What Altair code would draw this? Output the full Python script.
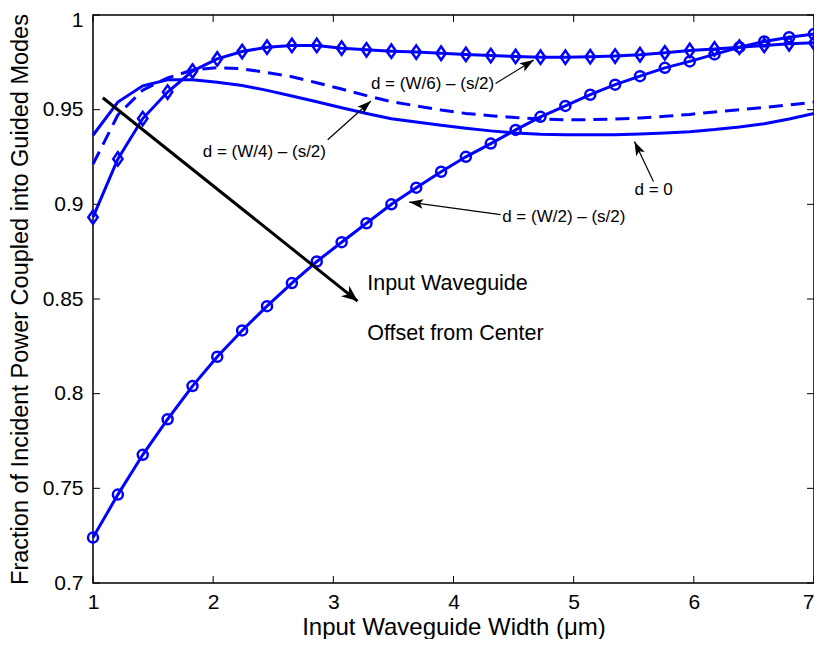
import math
import altair as alt
import pandas as pd

# ---------------- data ----------------
x_vals = [1.000, 1.207, 1.414, 1.621, 1.828, 2.034, 2.241, 2.448, 2.655, 2.862,
          3.069, 3.276, 3.483, 3.690, 3.897, 4.103, 4.310, 4.517, 4.724, 4.931,
          5.138, 5.345, 5.552, 5.759, 5.966, 6.172, 6.379, 6.586, 6.793, 7.000]

# d = 0 (solid, no markers)
d_zero = [0.9365, 0.9540, 0.9626, 0.9658, 0.9658, 0.9645, 0.9628, 0.9602, 0.9572, 0.9542,
          0.9510, 0.9480, 0.9452, 0.9435, 0.9418, 0.9402, 0.9388, 0.9377, 0.9370, 0.9367,
          0.9367, 0.9368, 0.9372, 0.9377, 0.9384, 0.9395, 0.9409, 0.9426, 0.9451, 0.9480]

# d = (W/4) - (s/2) (dashed)
d_w4 = [0.9212, 0.9472, 0.9603, 0.9668, 0.9709, 0.9722, 0.9716, 0.9696, 0.9674, 0.9642,
        0.9609, 0.9574, 0.9542, 0.9520, 0.9498, 0.9480, 0.9468, 0.9458, 0.9451, 0.9447,
        0.9447, 0.9451, 0.9456, 0.9465, 0.9475, 0.9488, 0.9500, 0.9512, 0.9525, 0.9540]

# d = (W/6) - (s/2) (diamonds)
d_w6 = [0.8932, 0.9240, 0.9453, 0.9593, 0.9704, 0.9768, 0.9807, 0.9830, 0.9839, 0.9839,
        0.9825, 0.9816, 0.9809, 0.9804, 0.9798, 0.9792, 0.9786, 0.9781, 0.9777, 0.9777,
        0.9780, 0.9783, 0.9790, 0.9800, 0.9813, 0.9821, 0.9830, 0.9839, 0.9848, 0.9853]

# d = (W/2) - (s/2) (circles)
d_w2 = [0.7240, 0.7467, 0.7677, 0.7865, 0.8040, 0.8195, 0.8334, 0.8462, 0.8584, 0.8698,
        0.8800, 0.8900, 0.9000, 0.9088, 0.9172, 0.9251, 0.9321, 0.9393, 0.9462, 0.9520,
        0.9579, 0.9632, 0.9677, 0.9721, 0.9755, 0.9792, 0.9830, 0.9860, 0.9883, 0.9900]

x_ticks = [1, 2, 3, 4, 5, 6, 7]
y_ticks = [0.7, 0.75, 0.8, 0.85, 0.9, 0.95, 1.0]

# annotations: label text, label anchor (x, y), font size
labels = ["d = (W/6) \u2013 (s/2)", "d = (W/4) \u2013 (s/2)", "d = 0",
          "d = (W/2) \u2013 (s/2)", "Input Waveguide", "Offset from Center"]
label_x = [3.313, 1.913, 5.506, 4.405, 3.282, 3.282]
label_y = [0.9638, 0.9279, 0.9074, 0.8935, 0.8579, 0.8316]
label_size = [17, 17, 17, 17, 21.5, 21.5]

# arrows: start (x1, y1) -> tip (x2, y2)
arrow_x1 = [4.350, 2.953, 5.664, 4.392, 1.081]
arrow_y1 = [0.9638, 0.9341, 0.9121, 0.8946, 0.9563]
arrow_x2 = [4.668, 3.313, 5.506, 3.631, 3.202]
arrow_y2 = [0.9762, 0.9546, 0.9332, 0.9012, 0.8489]
arrow_big = [False, False, False, False, True]

# ---------------- chart ----------------
W, H = 721, 568
XDOM, YDOM = [1, 7], [0.7, 1.0]
BLUE = "#0000ff"
FONT = "Liberation Sans"

xs = alt.Scale(domain=XDOM, nice=False, zero=False)
ys = alt.Scale(domain=YDOM, nice=False, zero=False)


def ang(x1, y1, x2, y2):
    dxp = (x2 - x1) * W / (XDOM[1] - XDOM[0])
    dyp = -(y2 - y1) * H / (YDOM[1] - YDOM[0])
    return math.degrees(math.atan2(dxp, -dyp)) % 360


x_axis = alt.Axis(values=x_ticks, format="d", ticks=False, domain=False, grid=False,
                  labelFont=FONT, labelFontSize=21, labelColor="black", labelPadding=8,
                  labelFlush=False,
                  labelAlign={"condition": {"test": "datum.value == 7", "value": "right"},
                              "value": "center"},
                  title="Input Waveguide Width (\u03bcm)",
                  titleFont=FONT, titleFontSize=24, titleFontWeight="normal",
                  titleColor="black", titleY=44, titleBaseline="middle")
y_axis = alt.Axis(values=y_ticks, format="~g", ticks=False, domain=False, grid=False,
                  labelFont=FONT, labelFontSize=21, labelColor="black", labelPadding=10,
                  labelFlush=False,
                  labelOffset={"condition": {"test": "datum.value == 1", "value": 5},
                               "value": 0},
                  title="Fraction of Incident Power Coupled into Guided Modes",
                  titleFont=FONT, titleFontSize=23.5, titleFontWeight="normal",
                  titleColor="black", titleAngle=270, titleX=-73, titleY=H / 2,
                  titleBaseline="middle", titleAlign="center")


def X(f):
    return alt.X(f, scale=xs, axis=x_axis)


def Y(f):
    return alt.Y(f, scale=ys, axis=y_axis)


def series_df(vals):
    return pd.DataFrame({"x": x_vals, "y": vals})


def line(vals, dash=None):
    kw = dict(color=BLUE, strokeWidth=3)
    if dash:
        kw["strokeDash"] = dash
    return alt.Chart(series_df(vals)).mark_line(**kw).encode(x=X("x:Q"), y=Y("y:Q"))


def pts(vals, shape, size):
    return alt.Chart(series_df(vals)).mark_point(
        shape=shape, filled=False, color=BLUE, strokeWidth=2.5, size=size, opacity=1
    ).encode(x=X("x:Q"), y=Y("y:Q"))


zero_line = line(d_zero)
dash_line = line(d_w4, dash=[14, 8])
w6_line = line(d_w6)
w6_pts = pts(d_w6, "M0,-1L0.7,0L0,1L-0.7,0Z", 180)
w2_line = line(d_w2)
w2_pts = pts(d_w2, "circle", 100)

# inward ticks on all four sides
xt = pd.DataFrame({"t": x_ticks})
yt = pd.DataFrame({"t": y_ticks})
TL = 7
tick_layers = [
    alt.Chart(xt).mark_rule(color="black", strokeWidth=1).encode(
        x=X("t:Q"), y=alt.value(H), y2=alt.value(H - TL)),
    alt.Chart(xt).mark_rule(color="black", strokeWidth=1).encode(
        x=X("t:Q"), y=alt.value(0), y2=alt.value(TL)),
    alt.Chart(yt).mark_rule(color="black", strokeWidth=1).encode(
        y=Y("t:Q"), x=alt.value(0), x2=alt.value(TL)),
    alt.Chart(yt).mark_rule(color="black", strokeWidth=1).encode(
        y=Y("t:Q"), x=alt.value(W), x2=alt.value(W - TL)),
]

arrows = pd.DataFrame({
    "x1": arrow_x1, "y1": arrow_y1, "x2": arrow_x2, "y2": arrow_y2, "big": arrow_big,
})
arrows["ang"] = [ang(a, b, c, d) for a, b, c, d in zip(arrow_x1, arrow_y1, arrow_x2, arrow_y2)]

small = arrows[~arrows["big"]]
big = arrows[arrows["big"]]

small_shafts = alt.Chart(small).mark_rule(color="black", strokeWidth=1.2).encode(
    x=X("x1:Q"), y=Y("y1:Q"), x2="x2:Q", y2="y2:Q")
big_shaft = alt.Chart(big).mark_rule(color="black", strokeWidth=3).encode(
    x=X("x1:Q"), y=Y("y1:Q"), x2="x2:Q", y2="y2:Q")

small_heads = alt.Chart(small).mark_point(
    shape="M0,0L-0.34,1L0,0.78L0.34,1Z", filled=True, color="black", opacity=1,
    strokeWidth=0, size=4 * 14 ** 2
).encode(x=X("x2:Q"), y=Y("y2:Q"), angle=alt.Angle("ang:Q", scale=None))
big_head = alt.Chart(big).mark_point(
    shape="M0,0L-0.42,1L0,0.72L0.42,1Z", filled=True, color="black", opacity=1,
    strokeWidth=0, size=4 * 16 ** 2
).encode(x=X("x2:Q"), y=Y("y2:Q"), angle=alt.Angle("ang:Q", scale=None))

lab_df = pd.DataFrame({"x": label_x, "y": label_y, "t": labels, "fs": label_size})
texts = alt.Chart(lab_df).mark_text(
    align="left", baseline="middle", font=FONT, color="black"
).encode(x=X("x:Q"), y=Y("y:Q"), text="t:N", size=alt.Size("fs:Q", scale=None))

chart = alt.layer(
    zero_line, dash_line, w6_line, w6_pts, w2_line, w2_pts,
    *tick_layers,
    small_shafts, big_shaft, small_heads, big_head, texts,
).properties(
    width=W, height=H,
    autosize=alt.AutoSizeParams(type="none"),
    padding={"left": 85, "top": 7, "right": 0, "bottom": 56},
    background="white",
).configure_view(
    stroke="black", strokeWidth=1.5
)

chart.save("out.html", embed_options={"renderer": "svg", "actions": False})
